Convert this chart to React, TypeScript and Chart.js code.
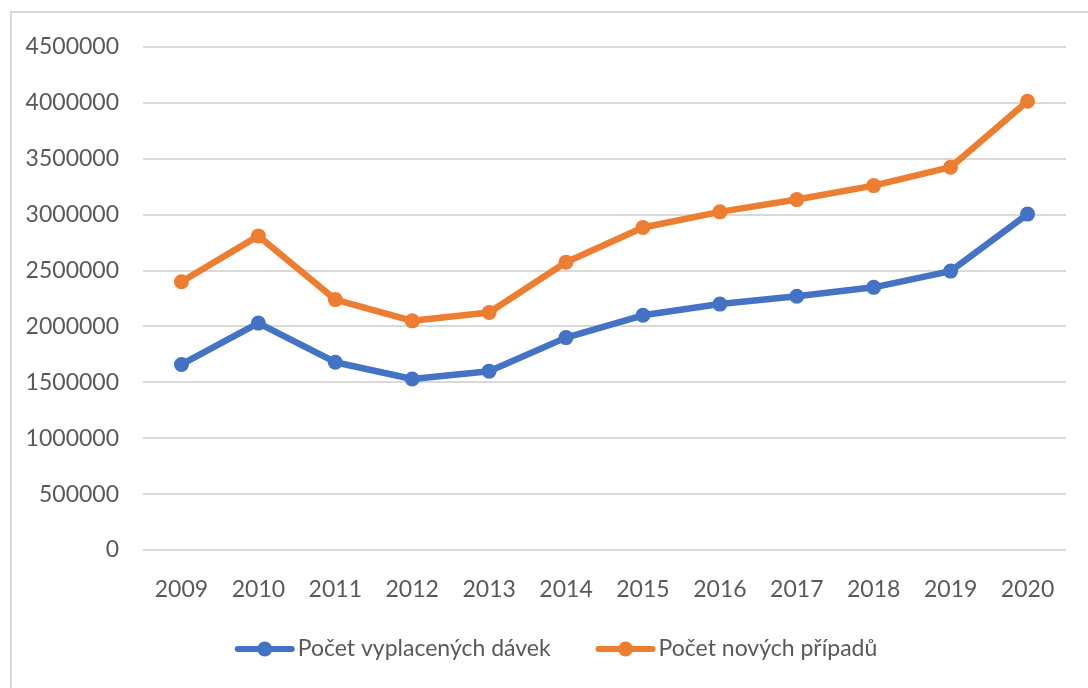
import React, { useEffect, useRef } from "react";
import { Chart, registerables } from "chart.js";

Chart.register(...registerables);

const years = ["2009", "2010", "2011", "2012", "2013", "2014", "2015", "2016", "2017", "2018", "2019", "2020"];
const vyplaceneDavky = [1660000, 2030000, 1680000, 1530000, 1600000, 1900000, 2100000, 2200000, 2270000, 2350000, 2495000, 3005000];
const novePripady = [2400000, 2810000, 2240000, 2050000, 2125000, 2575000, 2885000, 3025000, 3135000, 3260000, 3425000, 4015000];
const seriesNames = ["Počet vyplacených dávek", "Počet nových případů"];
const seriesColors = ["#4472C4", "#ED7D31"];

const FONT = "Lato, 'Open Sans', sans-serif";
const FONT_SIZE = 23;
const TEXT = "#595959";
const GRID = "#d9d9d9";

const legendPlugin = {
  id: "lineLegend",
  afterDraw(chart: any) {
    const ctx = chart.ctx as CanvasRenderingContext2D;
    ctx.save();
    ctx.font = `${FONT_SIZE}px ${FONT}`;
    ctx.textBaseline = "middle";
    ctx.textAlign = "left";
    const lineLen = 60;
    const textGap = 3;
    const itemGap = 45;
    const ds = chart.data.datasets;
    const widths = ds.map((d: any) => lineLen + textGap + ctx.measureText(d.label).width);
    const total = widths.reduce((a: number, b: number) => a + b, 0) + itemGap * (ds.length - 1);
    let x = 556 - total / 2;
    const y = 649;
    ds.forEach((d: any, i: number) => {
      ctx.strokeStyle = d.borderColor;
      ctx.lineWidth = 6;
      ctx.lineCap = "round";
      ctx.beginPath();
      ctx.moveTo(x + 3, y);
      ctx.lineTo(x + lineLen - 3, y);
      ctx.stroke();
      ctx.fillStyle = d.borderColor;
      ctx.beginPath();
      ctx.arc(x + lineLen / 2, y, 7.5, 0, Math.PI * 2);
      ctx.fill();
      ctx.fillStyle = TEXT;
      ctx.fillText(d.label, x + lineLen + textGap, y);
      x += widths[i] + itemGap;
    });
    ctx.restore();
  },
};

export default function App() {
  const ref = useRef<HTMLCanvasElement | null>(null);

  useEffect(() => {
    if (!ref.current) return;
    const mk = (label: string, data: number[], color: string) => ({
      label,
      data,
      borderColor: color,
      backgroundColor: color,
      pointBackgroundColor: color,
      pointBorderColor: color,
      pointBorderWidth: 0,
      pointRadius: 7.5,
      borderWidth: 6.5,
      borderJoinStyle: "round" as const,
      borderCapStyle: "round" as const,
      tension: 0,
    });
    const chart = new Chart(ref.current, {
      type: "line",
      data: {
        labels: years,
        datasets: [
          mk(seriesNames[0], vyplaceneDavky, seriesColors[0]),
          mk(seriesNames[1], novePripady, seriesColors[1]),
        ],
      },
      options: {
        animation: false,
        responsive: false,
        devicePixelRatio: 1,
        layout: { padding: { top: 47, right: 22, bottom: 78, left: 0 } },
        plugins: { legend: { display: false }, tooltip: { enabled: false } },
        scales: {
          x: {
            offset: true,
            grid: { display: false, drawTicks: false },
            border: { display: false },
            ticks: { color: TEXT, font: { family: FONT, size: FONT_SIZE }, padding: 26, maxRotation: 0 },
            afterFit: (s: any) => {
              s.height = 60;
            },
          },
          y: {
            min: 0,
            max: 4500000,
            grid: { color: GRID, lineWidth: 2, drawTicks: false },
            border: { display: false },
            ticks: {
              stepSize: 500000,
              color: TEXT,
              font: { family: FONT, size: FONT_SIZE },
              padding: 24,
              callback: (v: any) => String(v),
            },
            afterFit: (s: any) => {
              s.width = 143;
            },
          },
        },
      },
      plugins: [legendPlugin],
    });
    return () => chart.destroy();
  }, []);

  return (
    <div style={{ position: "fixed", left: 0, top: 0, width: 1088, height: 688, overflow: "hidden", background: "#fff" }}>
      <div
        style={{
          position: "absolute",
          left: 10,
          top: 11,
          width: 1200,
          height: 800,
          borderTop: `2px solid ${GRID}`,
          borderLeft: `2px solid ${GRID}`,
        }}
      />
      <canvas ref={ref} width={1088} height={688} style={{ position: "absolute", left: 0, top: 0, width: 1088, height: 688 }} />
    </div>
  );
}
